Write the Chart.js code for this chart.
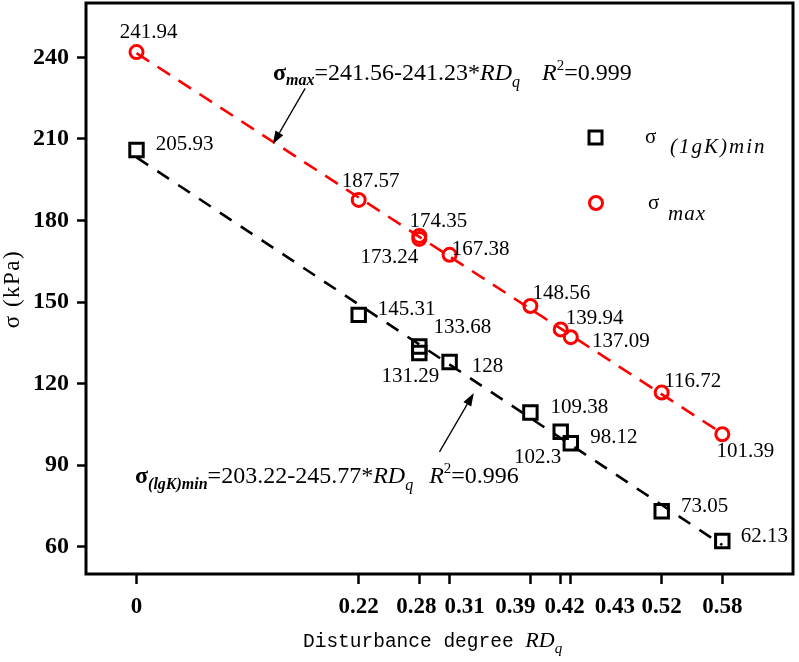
<!DOCTYPE html>
<html>
<head>
<meta charset="utf-8">
<script src="https://cdn.jsdelivr.net/npm/chart.js@4.4.0/dist/chart.umd.min.js"></script>
<style>
  html, body { margin: 0; padding: 0; background: #fff; }
</style>
</head>
<body>
<canvas id="chart" width="799" height="662"></canvas>
<script>
// --- DATA ---
const rdValues = [0, 0.22, 0.28, 0.28, 0.31, 0.39, 0.42, 0.43, 0.52, 0.58];
const sigmaMax = [241.94, 187.57, 174.35, 173.24, 167.38, 148.56, 139.94, 137.09, 116.72, 101.39];
const sigmaMin = [205.93, 145.31, 133.68, 131.29, 128, 109.38, 102.3, 98.12, 73.05, 62.13];
const xTicks = [0, 0.22, 0.28, 0.31, 0.39, 0.42, 0.43, 0.52, 0.58];
const yTicks = [60, 90, 120, 150, 180, 210, 240];
// fitted lines, end values read at RD = 0 and RD = 0.58
const fitRd = [0, 0.58];
const fitMax = [241.56, 101.65];
const fitMin = [203.22, 60.67];

// label placement (text centre dx, baseline dy) relative to each point
const maxLabelOffsets = [[12, -14], [12, -13], [19, -9], [-30, 24], [31, 0], [31, -7], [34, -5], [50, 10], [31, -6], [23, 23]];
const minLabelOffsets = [[48, 0], [48, 0], [43, -13], [-9, 29], [38, 10], [49, 0], [-23, 31], [43, 0], [43, 1], [42, 1]];
const xLabelShift = [0, 0, -3, 15, -15, 4, 44, 0, 0];

const RED = '#ff0000';
const SERIF = '"Liberation Serif", "Times New Roman", serif';
const MONO = '"Liberation Mono", monospace';

function drawRuns(ctx, x, y, runs) {
    ctx.textAlign = 'left';
    ctx.textBaseline = 'alphabetic';
    runs.forEach(r => {
        if (r.gap) { x += r.gap; return; }
        ctx.font = r.font;
        ctx.letterSpacing = r.ls || '0px';
        ctx.fillText(r.t, x, y + (r.dy || 0));
        x += ctx.measureText(r.t).width;
    });
    ctx.letterSpacing = '0px';
}

function drawArrow(ctx, x1, y1, x2, y2) {
    const ang = Math.atan2(y2 - y1, x2 - x1);
    const head = 13, half = 4.5;
    ctx.beginPath();
    ctx.moveTo(x1, y1);
    ctx.lineTo(x2 - head * Math.cos(ang), y2 - head * Math.sin(ang));
    ctx.lineWidth = 1.3;
    ctx.stroke();
    ctx.beginPath();
    ctx.moveTo(x2, y2);
    ctx.lineTo(x2 - head * Math.cos(ang) + half * Math.sin(ang), y2 - head * Math.sin(ang) - half * Math.cos(ang));
    ctx.lineTo(x2 - head * Math.cos(ang) - half * Math.sin(ang), y2 - head * Math.sin(ang) + half * Math.cos(ang));
    ctx.closePath();
    ctx.fill();
}

const overlay = {
    id: 'overlay',
    afterDatasetsDraw(chart) {
        const { ctx, chartArea: a, scales: { x, y } } = chart;
        ctx.save();
        ctx.fillStyle = '#000';
        ctx.strokeStyle = '#000';

        // frame
        ctx.lineWidth = 3;
        ctx.strokeRect(a.left, a.top, a.right - a.left, a.bottom - a.top);

        // point value labels
        ctx.font = '21px ' + SERIF;
        ctx.textAlign = 'center';
        ctx.textBaseline = 'alphabetic';
        rdValues.forEach((rd, i) => {
            const px = x.getPixelForValue(rd);
            ctx.fillText(String(sigmaMax[i]), px + maxLabelOffsets[i][0], y.getPixelForValue(sigmaMax[i]) + maxLabelOffsets[i][1]);
            ctx.fillText(String(sigmaMin[i]), px + minLabelOffsets[i][0], y.getPixelForValue(sigmaMin[i]) + minLabelOffsets[i][1]);
        });

        // x tick labels (shifted where they would overlap)
        ctx.font = 'bold 23px ' + SERIF;
        xTicks.forEach((v, i) => {
            ctx.fillText(String(v), x.getPixelForValue(v) + xLabelShift[i], a.bottom + 39);
        });

        // fit equations
        drawRuns(ctx, 273, 80, [
            { t: 'σ', font: 'bold 24px ' + SERIF },
            { t: 'max', font: 'bold italic 16px ' + SERIF, dy: 5 },
            { t: '=241.56-241.23*', font: '24px ' + SERIF },
            { t: 'RD', font: 'italic 24px ' + SERIF },
            { t: 'q', font: 'italic 16px ' + SERIF, dy: 7 },
            { gap: 22 },
            { t: 'R', font: 'italic 24px ' + SERIF },
            { t: '2', font: '15px ' + SERIF, dy: -10 },
            { t: '=0.999', font: '24px ' + SERIF }
        ]);
        drawRuns(ctx, 135, 483, [
            { t: 'σ', font: 'bold 24px ' + SERIF },
            { t: '(lgK)min', font: 'bold italic 16px ' + SERIF, dy: 6 },
            { t: '=203.22-245.77*', font: '24px ' + SERIF },
            { t: 'RD', font: 'italic 24px ' + SERIF },
            { t: 'q', font: 'italic 16px ' + SERIF, dy: 7 },
            { gap: 16 },
            { t: 'R', font: 'italic 24px ' + SERIF },
            { t: '2', font: '15px ' + SERIF, dy: -10 },
            { t: '=0.996', font: '24px ' + SERIF }
        ]);

        // arrows to the fit lines
        drawArrow(ctx, x.getPixelForValue(0.167), y.getPixelForValue(228.6), x.getPixelForValue(0.135), y.getPixelForValue(208.1));
        drawArrow(ctx, x.getPixelForValue(0.30), y.getPixelForValue(94.9), x.getPixelForValue(0.334), y.getPixelForValue(116.6));

        // legend
        ctx.lineWidth = 3;
        ctx.strokeStyle = '#000';
        ctx.strokeRect(589, 131, 13, 13);
        drawRuns(ctx, 645, 143, [{ t: 'σ', font: '21px ' + SERIF }]);
        drawRuns(ctx, 670, 153, [{ t: '(1gK)min', font: 'italic 21px ' + SERIF, ls: '2px' }]);
        ctx.strokeStyle = RED;
        ctx.beginPath();
        ctx.arc(596, 203, 6.5, 0, Math.PI * 2);
        ctx.stroke();
        drawRuns(ctx, 648, 209, [{ t: 'σ', font: '21px ' + SERIF }]);
        drawRuns(ctx, 668, 220, [{ t: 'max', font: 'italic 21px ' + SERIF, ls: '1px' }]);

        // axis titles
        drawRuns(ctx, 303, 647, [
            { t: 'Disturbance degree ', font: '19.5px ' + MONO },
            { t: 'RD', font: 'italic 22px ' + SERIF },
            { t: 'q', font: 'italic 15px ' + SERIF, dy: 6 }
        ]);
        ctx.save();
        ctx.translate(19, 289);
        ctx.rotate(-Math.PI / 2);
        ctx.font = '23px ' + SERIF;
        ctx.letterSpacing = '1.5px';
        ctx.textAlign = 'center';
        ctx.fillText('σ (kPa)', 0, 0);
        ctx.restore();

        ctx.restore();
    }
};

const toPoints = (xs, ys) => xs.map((v, i) => ({ x: v, y: ys[i] }));

new Chart(document.getElementById('chart'), {
    type: 'scatter',
    data: {
        datasets: [
            {
                type: 'line',
                label: 'fit max',
                data: toPoints(fitRd, fitMax),
                borderColor: RED,
                borderWidth: 2.6,
                borderDash: [15, 10],
                pointRadius: 0,
                fill: false
            },
            {
                type: 'line',
                label: 'fit min',
                data: toPoints(fitRd, fitMin),
                borderColor: '#000',
                borderWidth: 2.6,
                borderDash: [14, 11],
                pointRadius: 0,
                fill: false
            },
            {
                label: 'σ(lgK)min',
                data: toPoints(rdValues, sigmaMin),
                pointStyle: 'rect',
                pointRadius: 9.5,
                borderColor: '#000',
                backgroundColor: 'rgba(0,0,0,0)',
                borderWidth: 3
            },
            {
                label: 'σmax',
                data: toPoints(rdValues, sigmaMax),
                pointStyle: 'circle',
                pointRadius: 6.5,
                borderColor: RED,
                backgroundColor: 'rgba(0,0,0,0)',
                borderWidth: 3
            }
        ]
    },
    options: {
        responsive: false,
        animation: false,
        devicePixelRatio: 1,
        layout: { autoPadding: false, padding: { left: 0, top: 3, right: 6, bottom: 0 } },
        plugins: {
            legend: { display: false },
            tooltip: { enabled: false }
        },
        scales: {
            x: {
                type: 'linear',
                min: -0.05,
                max: 0.65,
                afterBuildTicks: s => { s.ticks = xTicks.map(v => ({ value: v })); },
                afterFit: s => { s.height = 88; s.paddingLeft = 0; s.paddingRight = 0; },
                ticks: { display: false },
                grid: { drawOnChartArea: false, drawTicks: true, tickLength: 10, tickColor: '#000', tickWidth: 2.5 },
                border: { display: false }
            },
            y: {
                min: 50,
                max: 260,
                afterBuildTicks: s => { s.ticks = yTicks.map(v => ({ value: v })); },
                afterFit: s => { s.width = 86; s.paddingTop = 0; s.paddingBottom = 0; },
                ticks: { color: '#000', padding: 8, font: { family: SERIF, size: 24, weight: 'bold' } },
                grid: { drawOnChartArea: false, drawTicks: true, tickLength: 9, tickColor: '#000', tickWidth: 2.5 },
                border: { display: false }
            }
        }
    },
    plugins: [overlay]
});
</script>
</body>
</html>
